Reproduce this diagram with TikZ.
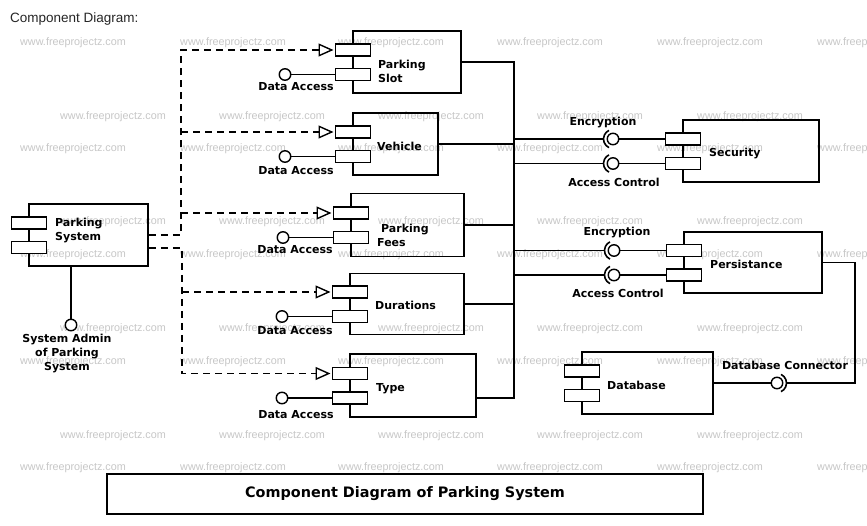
\documentclass[tikz,border=0pt]{standalone}
\usepackage{fontspec}
\setmainfont{DejaVu Sans}
\newfontfamily\arialf{Liberation Sans}
\usetikzlibrary{arrows.meta,calc}
\newcommand\mkcomp[5]{%
  \node[box, minimum width=#4pt, minimum height=#5pt] (#1) at (#2,#3) {};
  \node[port] (#1a) at ($(#1.west)+(1,-12)$) {};
  \node[port] (#1b) at ($(#1.west)+(1,12.5)$) {};
}
\begin{document}
\begin{tikzpicture}[x=1pt,y=-1pt,
  box/.style={draw, line width=1.6pt, inner sep=0pt},
  port/.style={draw, fill=white, line width=1.4pt, minimum width=35pt, minimum height=12pt, inner sep=0pt},
  ball/.style={draw, fill=white, circle, line width=1.4pt, minimum size=11.5pt, inner sep=0pt},
  ln/.style={line width=1.6pt},
  dep/.style={line width=1.5pt, dash pattern=on 7pt off 5pt, -{Triangle[open, length=15pt, width=13pt, line width=1.4pt]}, shorten >=1.5pt},
  lbl/.style={font=\fontsize{11}{14}\selectfont\bfseries, inner sep=0pt, text height=8pt, text depth=2pt},
  lbltwo/.style={font=\fontsize{11}{14}\selectfont\bfseries, inner sep=0pt, align=left},
  wm/.style={font=\arialf\fontsize{10.8}{12}\selectfont, text=black!22, inner sep=0pt, anchor=west},
]
\useasboundingbox (0,0) rectangle (867,525);
\fill[white] (0,0) rectangle (867,525);
% watermarks
\begin{scope}
\clip (0,0) rectangle (867,525);
\foreach \y in {43,149,255,362,468}
  \foreach \x in {20,180,338,497,657,817}
    \node[wm] (wm-\x-\y) at (\x,\y) {www.freeprojectz.com};
\foreach \y in {117,222,329,436}
  \foreach \x in {60,219,378,537,697}
    \node[wm] (wm-\x-\y) at (\x,\y) {www.freeprojectz.com};
\end{scope}

\node[anchor=west, inner sep=0pt, text=black!85, font=\arialf\fontsize{13.5}{15}\selectfont] (hdr) at (10,19) {Component Diagram:};

% components
\mkcomp{slot}{407}{62}{108}{62}
\mkcomp{vehi}{395.5}{144}{85}{62}
\mkcomp{fees}{407.5}{225}{113}{63}
\mkcomp{dur}{407}{304}{114}{61}
\mkcomp{type}{413}{385.5}{126}{63}
\mkcomp{psys}{88.5}{235}{119}{62}
\mkcomp{sec}{751}{151}{136}{62}
\mkcomp{pers}{753}{262.5}{138}{61}
\mkcomp{db}{647.5}{383}{131}{62}

\node[lbltwo, anchor=west] (slotT) at (378,71) {Parking\\Slot};
\node[lbl, anchor=west] (vehiT) at (377,147) {Vehicle};
\node[lbltwo, anchor=west] (feesT) at (377,235) {\hspace*{4pt}Parking\\Fees};
\node[lbl, anchor=west] (durT) at (375,306) {Durations};
\node[lbl, anchor=west] (typeT) at (376,388) {Type};
\node[lbltwo, anchor=west] (psysT) at (55,230.5) {Parking\\System};
\node[lbl, anchor=west] (secT) at (709,153) {Security};
\node[lbl, anchor=west] (persT) at (710,265) {Persistance};
\node[lbl, anchor=west] (dbT) at (607,386) {Database};

% data access lollipops
\foreach \c/\lx/\ly in {slot/296/87, vehi/296/171, fees/295/250, dur/295/331, type/296/415}{
  \node[ball] (\c L) at ([xshift=-50pt]\c b.west) {};
  \draw[ln] (\c L) -- (\c b);
  \node[lbl] (\c DA) at (\lx,\ly) {Data Access};
}

% system admin lollipop
\node[ball] (psL) at (71,325) {};
\draw[ln] (psL) -- (psL |- psys.south);
\node[lbltwo, align=center] (psLT) at (67,354) {System Admin\\of Parking\\System};

% dependencies (dashed)
\coordinate (bu) at (181,0);
\coordinate (bl) at (182,0);
\draw[dep] (psys.east) -| (bu |- slota) -- (slota.west);
\draw[dep] (bu |- vehia) -- (vehia.west);
\draw[dep] (bu |- feesa) -- (feesa.west);
\draw[dep] ($(psys.east)+(0,13)$) -| (bl |- typea) -- (typea.west);
\draw[dep] (bl |- dura) -- (dura.west);

% right bus
\coordinate (br) at (514,0);
\coordinate (bb) at (514,398);
\draw[ln] (slot.east) -| (bb) -- (bb -| type.east);
\draw[ln] (vehi.east) -- (vehi.east -| br);
\draw[ln] (fees.east) -- (fees.east -| br);
\draw[ln] (dur.east) -- (dur.east -| br);

% assembly connectors to Security and Persistance
\foreach \p/\n in {seca/sA, secb/sB, persa/pA, persb/pB}{
  \node[ball] (\n) at ([xshift=-52pt]\p.west) {};
  \draw[ln] (\n) -- (\p);
  \draw[ln] ($(\n)+(115:9.5)$) arc[start angle=115, end angle=245, radius=9.5];
  \draw[ln] (br |- \n) -- ($(\n)+(-9.5,0)$);
}
\node[lbl] (sAT) at (603,122) {Encryption};
\node[lbl] (sBT) at (614,183) {Access Control};
\node[lbl] (pAT) at (617,232) {Encryption};
\node[lbl] (pBT) at (618,294) {Access Control};

% database connector
\node[ball] (dbB) at (777,383) {};
\draw[ln] (db.east) -- (dbB);
\draw[ln] ($(dbB)+(-65:9.5)$) arc[start angle=-65, end angle=65, radius=9.5];
\coordinate (dbc) at (855,0);
\draw[ln] ($(dbB)+(9.5,0)$) -- (dbc |- dbB) -- (dbc |- pers.east) -- (pers.east);
\node[lbl] (dbBT) at (785,366) {Database Connector};

% title
\node[draw, line width=1.6pt, minimum width=596pt, minimum height=40pt, inner sep=0pt,
      font=\fontsize{14.4}{16}\selectfont\bfseries] (title) at (405,494) {Component Diagram of Parking System};
\end{tikzpicture}
\end{document}
